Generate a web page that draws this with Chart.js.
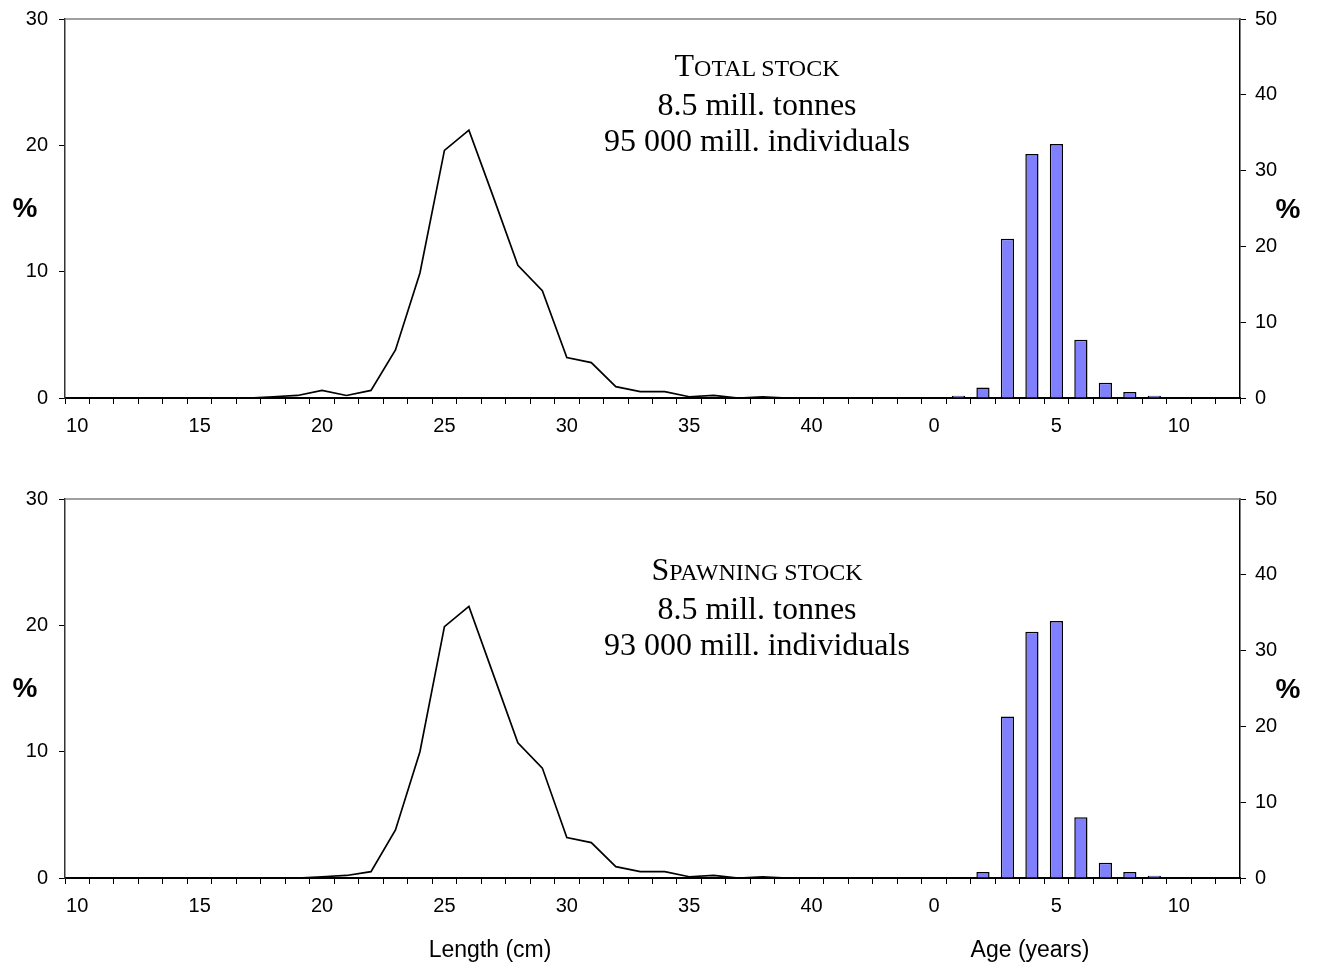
<!DOCTYPE html>
<html>
<head>
<meta charset="utf-8">
<script src="https://cdn.jsdelivr.net/npm/chart.js@4.4.0/dist/chart.umd.min.js"></script>
<style>
  body { margin: 0; background: #fff; }
  #wrap { position: relative; width: 1319px; height: 968px; }
  canvas { position: absolute; left: 0; }
  #total { top: 0; }
  #spawning { top: 480px; }
  .note { position: absolute; left: 557px; width: 400px; text-align: center;
          font-family: "Liberation Serif", "Times New Roman", serif; font-size: 32px;
          line-height: 36px; color: #000; z-index: 2; }
  .note .sc { font-size: 24px; }
  .pct { position: absolute; width: 40px; text-align: center; z-index: 2;
         font-family: "Liberation Sans", Arial, sans-serif; font-weight: bold;
         font-size: 28px; line-height: 28px; }
  .axt { position: absolute; width: 200px; text-align: center; z-index: 2;
         font-family: "Liberation Sans", Arial, sans-serif; font-size: 23px; line-height: 23px; }
</style>
</head>
<body>
<div id="wrap">
  <canvas id="total" width="1319" height="480"></canvas>
  <canvas id="spawning" width="1319" height="488"></canvas>

  <div class="note" style="top:47px">T<span class="sc">OTAL STOCK</span><br>8.5 mill. tonnes<br>95 000 mill. individuals</div>
  <div class="note" style="top:551px">S<span class="sc">PAWNING STOCK</span><br>8.5 mill. tonnes<br>93 000 mill. individuals</div>

  <div class="pct" style="left:5px;top:194px">%</div>
  <div class="pct" style="left:1268px;top:195px">%</div>
  <div class="pct" style="left:5px;top:674px">%</div>
  <div class="pct" style="left:1268px;top:675px">%</div>

  <div class="axt" style="left:390px;top:938px">Length (cm)</div>
  <div class="axt" style="left:930px;top:938px">Age (years)</div>
</div>

<script>
// length classes (cm) and age classes (years) share one category axis
let lengthClasses = [10, 11, 12, 13, 14, 15, 16, 17, 18, 19, 20, 21, 22, 23, 24, 25, 26, 27,
  28, 29, 30, 31, 32, 33, 34, 35, 36, 37, 38, 39, 40, 41, 42, 43, 44];
let ageClasses = [0, 1, 2, 3, 4, 5, 6, 7, 8, 9, 10, 11, 12];

// % by length, 10-43 cm
let totalLength = [0, 0, 0, 0, 0, 0, 0, 0, 0.1, 0.2, 0.6, 0.2, 0.6, 3.8, 9.9, 19.6, 21.2,
  15.9, 10.5, 8.5, 3.2, 2.8, 0.9, 0.5, 0.5, 0.1, 0.2, 0, 0.1, 0, 0, 0, 0, 0];
let spawningLength = [0, 0, 0, 0, 0, 0, 0, 0, 0, 0, 0.1, 0.2, 0.5, 3.8, 10.0, 19.9, 21.5,
  16.1, 10.7, 8.7, 3.2, 2.8, 0.9, 0.5, 0.5, 0.1, 0.2, 0, 0.1, 0, 0, 0, 0, 0];

// % by age, 0-12 years
let totalAge = [0, 0.3, 1.4, 21.0, 32.2, 33.5, 7.7, 2.0, 0.8, 0.3, 0, 0, 0];
let spawningAge = [0, 0, 0.8, 21.3, 32.5, 33.9, 8.0, 2.0, 0.8, 0.3, 0, 0, 0];

let xLabels = lengthClasses.concat(ageClasses).map(String);
let sans = "'Liberation Sans', Arial, sans-serif";

function padTo(arr, before, total) {
  let out = [];
  for (let i = 0; i < before; i++) out.push(null);
  out = out.concat(arr);
  while (out.length < total) out.push(null);
  return out;
}

// thin grey frame line along the top of the plot area
const topEdge = {
  id: "topEdge",
  afterDraw(chart) {
    let ctx = chart.ctx;
    let a = chart.chartArea;
    ctx.save();
    ctx.strokeStyle = "#808080";
    ctx.lineWidth = 1.5;
    ctx.beginPath();
    ctx.moveTo(a.left, a.top);
    ctx.lineTo(a.right, a.top);
    ctx.stroke();
    ctx.restore();
  }
};

// fixed width for the value axes, no extra room for the end labels
function fixWidth(w) {
  return function (s) {
    s.width = w;
    s.paddingTop = 0;
    s.paddingBottom = 0;
  };
}

function drawPanel(id, lenVals, ageVals, axisHeight) {
  new Chart(id, {
    type: "bar",
    data: {
      labels: xLabels,
      datasets: [{
        type: "line",
        data: padTo(lenVals, 0, xLabels.length),
        borderColor: "#000",
        borderWidth: 1.7,
        pointRadius: 0,
        tension: 0,
        fill: false,
        yAxisID: "y"
      }, {
        type: "bar",
        data: padTo(ageVals, lengthClasses.length, xLabels.length),
        backgroundColor: "#8080ff",
        borderColor: "#000",
        borderWidth: 1.5,
        barPercentage: 0.54,
        categoryPercentage: 1,
        yAxisID: "y2"
      }]
    },
    options: {
      responsive: false,
      animation: false,
      layout: { padding: { top: 19, left: 0, right: 0, bottom: 0 } },
      plugins: { legend: { display: false }, tooltip: { enabled: false } },
      scales: {
        x: {
          offset: true,
          grid: { offset: true, drawOnChartArea: false, tickLength: 6, color: "#000" },
          border: { color: "#000", width: 2 },
          ticks: {
            autoSkip: false, maxRotation: 0, padding: 10, color: "#000",
            font: { family: sans, size: 20 },
            callback: function (val) {
              let lab = this.getLabelForValue(val);
              return Number(lab) % 5 === 0 ? lab : "";
            }
          },
          afterFit: function (s) { s.height = axisHeight; }
        },
        y: {
          position: "left", min: 0, max: 30,
          grid: { drawOnChartArea: false, tickLength: 6, color: "#000" },
          border: { color: "#333", width: 1.5 },
          ticks: { stepSize: 10, padding: 11, color: "#000", font: { family: sans, size: 20 } },
          afterFit: fixWidth(65)
        },
        y2: {
          position: "right", min: 0, max: 50,
          grid: { drawOnChartArea: false, tickLength: 6, color: "#000" },
          border: { color: "#000", width: 1.5 },
          ticks: { stepSize: 10, padding: 9, color: "#000", font: { family: sans, size: 20 } },
          afterFit: fixWidth(79)
        }
      }
    },
    plugins: [topEdge]
  });
}

drawPanel("total", totalLength, totalAge, 82);
drawPanel("spawning", spawningLength, spawningAge, 90);
</script>
</body>
</html>
